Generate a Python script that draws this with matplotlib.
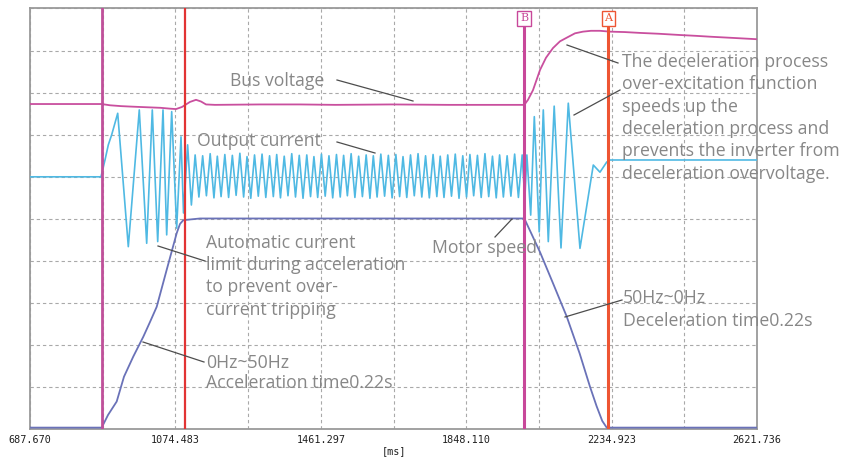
import numpy as np
import matplotlib
matplotlib.use("Agg")
import matplotlib.pyplot as plt
from matplotlib.lines import Line2D

# ---------------- data ----------------
x_start = 687.670
x_end = 2621.736
x_tick_labels = ["687.670", "1074.483", "1461.297", "1848.110", "2234.923", "2621.736"]

# cursor lines (ms)
cursor_times = [878.4, 1100.8, 2002.7, 2226.1]
cursor_names = ["", "", "B", "A"]

# bus voltage (ms, divisions)
bus_t = [687.67, 878.4, 900.5, 930.0, 953.7, 980.0, 1006.9, 1035.0, 1060.1, 1076.1, 1092.0,
         1113.3, 1129.3, 1142.6, 1155.9, 1179.8, 1300.0, 1406.0, 1500.0, 1650.0, 1800.0,
         1950.0, 2002.7, 2012.5, 2025.8, 2044.5, 2060.4, 2079.0, 2097.6, 2116.3, 2137.5,
         2158.8, 2180.0, 2204.0, 2230.7, 2270.0, 2310.5, 2360.0, 2417.0, 2460.0, 2496.7,
         2560.0, 2621.7]
bus_v = [7.73, 7.73, 7.70, 7.68, 7.67, 7.66, 7.65, 7.64, 7.62, 7.61, 7.66,
         7.78, 7.83, 7.79, 7.72, 7.71, 7.72, 7.72, 7.71, 7.72, 7.71,
         7.71, 7.71, 7.83, 8.06, 8.54, 8.83, 9.06, 9.22, 9.31, 9.41,
         9.45, 9.47, 9.47, 9.45, 9.44, 9.42, 9.40, 9.37, 9.35, 9.33,
         9.30, 9.27]

# motor speed (ms, divisions)
speed_t = [687.67, 878.4, 895.2, 918.3, 937.7, 962.5, 989.1, 1006.9, 1024.7, 1051.3,
           1077.9, 1086.7, 1095.5, 1139.9, 2002.7, 2044.5, 2080.0, 2115.5, 2150.0,
           2177.5, 2195.0, 2210.0, 2221.9, 2621.7]
speed_v = [0.04, 0.04, 0.34, 0.66, 1.25, 1.73, 2.20, 2.55, 2.91, 3.79,
           4.66, 4.88, 4.97, 5.01, 5.01, 4.21, 3.45, 2.68, 1.80,
           1.01, 0.55, 0.20, 0.04, 0.04]

# output current: acceleration section
cur_acc_t = [687.67, 876.5, 887.2, 896.0, 905.0, 921.0, 949.2, 978.4, 998.1, 1013.0,
             1027.4, 1041.5, 1051.3, 1064.6, 1077.9, 1089.4, 1096.0, 1107.0, 1117.0]
cur_acc_v = [6.00, 6.00, 6.40, 6.76, 7.00, 7.51, 4.34, 7.59, 4.42, 7.59,
             4.46, 7.59, 4.62, 7.55, 4.78, 6.95, 5.14, 6.76, 5.33]

# output current: steady-state peaks and troughs
cur_peak_t = [1127, 1147, 1167, 1186, 1206, 1226, 1246, 1265, 1285, 1305, 1325, 1344,
              1364, 1384, 1404, 1424, 1443, 1463, 1483, 1503, 1522, 1542, 1562, 1582,
              1601, 1621, 1641, 1661, 1680, 1700, 1720, 1740, 1760, 1779, 1799, 1819,
              1839, 1858, 1878, 1898, 1918, 1937, 1957, 1977, 1997]
cur_peak_v = [6.52, 6.50, 6.55, 6.49, 6.53, 6.51, 6.56, 6.48, 6.52, 6.54, 6.50, 6.53,
              6.49, 6.55, 6.51, 6.52, 6.48, 6.54, 6.50, 6.53, 6.51, 6.55, 6.49, 6.52,
              6.50, 6.54, 6.51, 6.53, 6.48, 6.52, 6.55, 6.50, 6.53, 6.49, 6.52, 6.54,
              6.50, 6.53, 6.51, 6.55, 6.49, 6.52, 6.50, 6.54, 6.52]
cur_trough_t = [1137, 1157, 1177, 1196, 1216, 1236, 1256, 1275, 1295, 1315, 1335, 1354,
                1374, 1394, 1414, 1434, 1453, 1473, 1493, 1513, 1532, 1552, 1572, 1592,
                1611, 1631, 1651, 1671, 1690, 1710, 1730, 1750, 1770, 1789, 1809, 1829,
                1849, 1868, 1888, 1908, 1928, 1947, 1967, 1987]
cur_trough_v = [5.52, 5.55, 5.50, 5.53, 5.51, 5.56, 5.52, 5.49, 5.54, 5.51, 5.53, 5.50,
                5.55, 5.52, 5.49, 5.53, 5.51, 5.54, 5.50, 5.52, 5.55, 5.51, 5.53, 5.49,
                5.52, 5.54, 5.50, 5.53, 5.51, 5.55, 5.52, 5.50, 5.53, 5.51, 5.54, 5.49,
                5.52, 5.55, 5.51, 5.53, 5.50, 5.52, 5.54, 5.51]

# output current: deceleration section
cur_dec_t = [2004.0, 2009.5, 2019.7, 2029.3, 2042.3, 2053.2, 2066.5, 2082.2, 2100.3,
             2119.7, 2150.8, 2186.2, 2204.0, 2221.9, 2230.7, 2621.7]
cur_dec_v = [5.45, 6.52, 5.09, 7.43, 4.69, 7.59, 4.46, 7.68, 4.31,
             7.75, 4.30, 6.28, 6.11, 6.35, 6.40, 6.40]

# ---------------- figure ----------------
W, H = 843, 461
fig = plt.figure(figsize=(W / 100, H / 100), dpi=100)
fig.patch.set_facecolor("white")

L, R, T, B = 30, 757, 8.5, 429.3
ax = fig.add_axes([L / W, 1 - B / H, (R - L) / W, (B - T) / H])
ax.set_xlim(x_start, x_end)
ax.set_ylim(0, 10)

step = (x_end - x_start) / 10
xt = [x_start + i * step for i in range(11)]
ax.set_xticks(xt)
ax.set_xticklabels([x_tick_labels[i // 2] if i % 2 == 0 else "" for i in range(11)],
                   fontfamily="DejaVu Sans Mono", fontsize=7.3, color="#202020")
ax.set_yticks(range(11))
ax.set_yticklabels([])
ax.tick_params(length=0, pad=4)
ax.grid(True, color="#a9a9a9", linestyle=(0, (3, 2.6)), linewidth=0.8, zorder=0)
for s in ax.spines.values():
    s.set_color("#9a9a9a")
    s.set_linewidth(1.3)
ax.set_xlabel("[ms]", fontfamily="DejaVu Sans Mono", fontsize=7.3, color="#202020",
              labelpad=1)

# current combined
cur = list(zip(cur_acc_t, cur_acc_v)) + list(zip(cur_peak_t, cur_peak_v)) + \
      list(zip(cur_trough_t, cur_trough_v)) + list(zip(cur_dec_t, cur_dec_v))
cur.sort(key=lambda p: p[0])
ct = [p[0] for p in cur]
cv = [p[1] for p in cur]
ax.plot(ct, cv, color="#4fb9e3", lw=1.2, zorder=3)
ax.plot(bus_t, bus_v, color="#c94f9e", lw=1.3, zorder=3)
ax.plot(speed_t, speed_v, color="#6a72b8", lw=1.3, zorder=3)

# cursors
cur_colors = ["#c0509a", "#e23434", "#c8489a", "#ee5533"]
cur_lw = [2.0, 1.6, 2.2, 2.2]
top_frac = (B - 27) / (B - T)
for tval, name, col, lw in zip(cursor_times, cursor_names, cur_colors, cur_lw):
    ymax = top_frac if name else 1.0
    ax.axvline(tval, ymin=0, ymax=ymax, color=col, lw=lw, zorder=4)
    if name:
        ax.text(tval, 1.0 - (18.3 - T) / (B - T), name, transform=ax.get_xaxis_transform(),
                ha="center", va="center", fontsize=8, color=col, fontfamily="DejaVu Serif",
                bbox=dict(boxstyle="square,pad=0.25", fc="white", ec=col, lw=1.0), zorder=5)

# ---------------- annotations (pixel helpers) ----------------
def fx(x):
    return x / W

def fy(y):
    return 1 - y / H

def leader(x0, y0, x1, y1):
    fig.add_artist(Line2D([fx(x0), fx(x1)], [fy(y0), fy(y1)], color="#4d4d4d", lw=0.9,
                          zorder=6))

txt_kw = dict(fontfamily=["Open Sans", "DejaVu Sans"], fontsize=12.7, color="#878787",
              ha="left", va="baseline", zorder=6)

def block(x, baselines, lines):
    for b, s in zip(baselines, lines):
        fig.text(fx(x), fy(b), s, **txt_kw)

block(229.7, [86], ["Bus voltage"])
leader(337, 80, 413, 101)
block(196.7, [146], ["Output current"])
leader(337, 142, 375, 153)
block(622.5, [66.7, 89.1, 111.5, 133.9, 156.3, 178.7],
      ["The deceleration process", "over-excitation function", "speeds up the",
       "deceleration process and", "prevents the inverter from", "deceleration overvoltage."])
leader(567, 45, 618, 63)
leader(574, 115, 620, 90)
block(206.5, [247.7, 270, 292.3, 314.6],
      ["Automatic current", "limit during acceleration", "to prevent over-", "current tripping"])
leader(158, 246, 205, 261)
block(431.7, [253.3], ["Motor speed"])
leader(495, 237, 512, 219)
block(206, [368.3, 388.3], ["0Hz~50Hz", "Acceleration time0.22s"])
leader(143, 342, 204, 362)
block(623.3, [303.3, 326], ["50Hz~0Hz", "Deceleration time0.22s"])
leader(565, 317, 622, 300)

fig.savefig("out.png", dpi=100)
